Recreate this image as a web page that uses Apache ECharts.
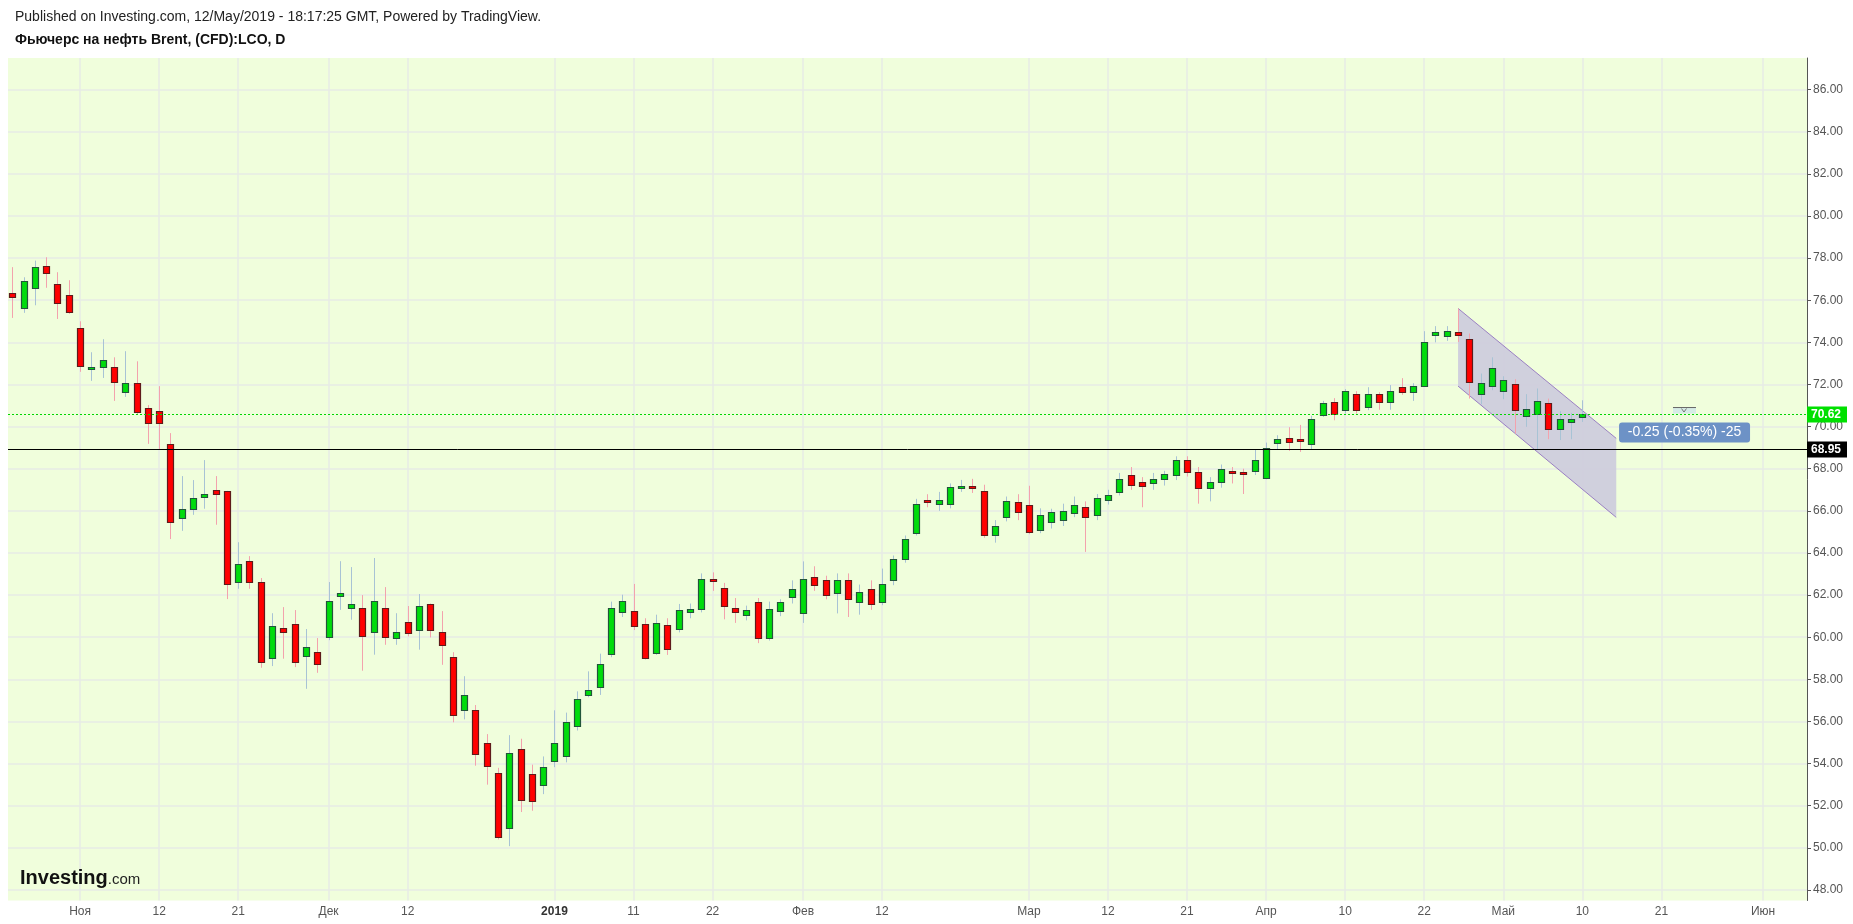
<!DOCTYPE html>
<html>
<head>
<meta charset="utf-8">
<script src="https://cdn.jsdelivr.net/npm/echarts@6/dist/echarts.min.js"></script>
<style>html,body{margin:0;padding:0;background:#fff;}#c{width:1853px;height:924px;}</style>
</head>
<body>
<div id="c"></div>
<script>
// Trading days: index 0 = 24 Oct 2018 ... index 139 = 10 May 2019
const opens  = [76.36,75.65,76.60,77.64,76.79,76.27,74.70,72.76,72.85,72.85,71.65,72.09,70.86,70.72,69.15,65.64,66.11,66.68,67.01,66.92,62.60,63.60,62.60,58.99,60.42,60.65,59.13,59.28,59.99,61.94,61.37,61.37,60.27,61.37,59.94,60.70,60.32,61.56,60.27,59.04,56.53,56.53,55.00,53.55,50.92,54.68,53.50,52.99,54.12,54.34,55.80,57.26,57.65,59.22,61.18,61.24,60.62,59.27,60.57,60.40,61.18,61.35,62.75,62.36,61.41,61.07,61.69,59.95,61.24,61.91,61.13,62.86,62.70,62.08,62.70,61.69,62.31,61.69,62.70,63.71,64.94,66.51,66.34,66.34,67.13,67.19,66.96,64.83,65.73,66.40,66.29,65.11,65.45,65.56,65.90,66.17,65.78,66.51,66.90,67.69,67.35,67.30,67.52,67.69,68.42,67.86,67.07,67.35,67.91,67.85,67.91,67.58,69.23,69.48,69.42,69.15,70.57,71.19,70.80,71.57,70.95,71.57,71.19,71.87,71.62,71.93,74.37,74.28,74.47,74.18,71.57,71.95,71.71,72.00,70.48,70.59,71.13,69.88,70.24,70.45];
const highs  = [77.57,77.09,77.88,78.04,77.33,76.95,75.00,73.53,74.15,73.29,73.58,73.10,71.02,71.92,69.69,67.65,67.46,68.41,67.65,66.95,64.51,63.85,62.81,61.14,61.43,61.29,60.39,59.96,62.62,63.61,63.33,62.00,63.76,62.38,61.14,61.48,62.05,61.60,61.24,59.29,58.15,56.78,55.40,53.80,55.35,55.18,53.95,54.34,56.53,56.42,57.43,58.38,59.22,61.69,62.02,62.53,60.90,61.07,60.90,61.58,61.60,63.03,63.08,62.58,61.86,61.50,61.86,61.69,61.80,62.70,63.60,63.37,62.92,63.03,63.03,62.50,62.70,63.26,63.88,64.83,66.57,66.79,66.90,67.30,67.47,67.52,67.24,65.56,66.68,66.79,67.19,66.12,66.10,66.34,66.68,66.45,66.80,67.00,67.80,68.08,67.60,67.80,67.90,68.59,68.59,68.08,67.60,68.20,68.08,68.00,68.90,69.24,69.59,69.97,70.08,70.51,71.22,71.35,71.78,71.68,71.87,71.63,71.97,72.30,72.06,74.53,74.77,74.77,75.60,74.42,72.52,73.29,72.39,72.25,71.54,71.81,71.33,70.73,70.65,71.25];
const lows   = [75.16,75.40,75.76,76.59,75.11,75.35,72.60,72.17,72.31,71.22,71.41,70.60,69.18,68.91,64.66,65.05,65.81,66.10,65.34,61.81,62.30,62.30,58.55,58.63,58.98,58.58,57.55,58.31,59.86,61.30,60.83,58.41,59.17,59.64,59.64,60.04,59.41,59.99,58.69,55.96,56.10,53.90,53.00,50.40,50.08,51.70,51.76,52.55,53.83,54.06,55.57,57.15,57.26,59.05,60.96,60.34,58.94,59.16,59.16,60.23,60.90,61.18,62.20,60.85,60.68,60.80,59.72,59.84,61.00,61.60,60.68,62.20,61.80,61.13,60.96,61.07,61.30,61.52,62.47,63.54,64.83,66.17,66.00,66.12,66.90,66.85,64.72,64.49,65.50,65.56,64.89,64.94,65.16,65.28,65.70,64.05,65.56,66.30,66.73,67.00,66.17,67.00,67.20,67.46,67.63,66.34,66.45,67.10,67.30,66.80,67.70,67.50,68.91,68.85,68.80,68.90,70.46,70.30,70.62,70.62,70.78,70.80,70.80,71.51,71.22,71.89,74.00,74.07,74.02,71.33,71.06,71.73,71.30,69.67,69.99,68.91,69.40,69.36,69.40,70.22];
const closes = [76.17,76.89,77.60,77.31,75.89,75.46,72.90,72.85,73.18,72.12,72.09,70.67,70.19,70.15,65.48,66.11,66.63,66.78,66.78,62.55,63.50,62.60,58.83,60.51,60.23,58.80,59.52,58.71,61.70,62.08,61.56,60.08,61.70,59.99,60.23,60.18,61.46,60.32,59.61,56.29,57.28,54.45,53.90,50.53,54.51,52.27,52.21,53.83,54.96,55.97,57.09,57.48,58.71,61.41,61.74,60.51,58.99,60.68,59.44,61.30,61.35,62.75,62.70,61.46,61.18,61.30,59.95,61.35,61.69,62.31,62.75,62.47,62.02,62.70,61.80,62.14,61.58,62.53,63.71,64.66,66.34,66.40,66.51,67.13,67.19,67.07,64.83,65.28,66.45,65.95,65.00,65.78,65.95,66.01,66.29,65.73,66.62,66.73,67.52,67.24,67.19,67.52,67.75,68.42,67.86,67.07,67.35,67.97,67.80,67.78,68.42,69.00,69.39,69.28,69.37,70.34,71.10,70.62,71.71,70.80,71.57,71.19,71.71,71.62,71.95,74.04,74.51,74.56,74.37,72.12,72.05,72.80,72.19,70.77,70.84,71.22,69.88,70.37,70.37,70.62];

// x-axis ticks (trading-day index) and their labels
const tickIdx    = [6,13,20,28,35,48,55,62,70,77,90,97,104,111,118,125,132,139,146,155];
const tickLabels = ['Ноя','12','21','Дек','12','2019','11','22','Фев','12','Мар','12','21','Апр','10','22','Май','10','21','Июн'];
const priceTicks = [48,50,52,54,56,58,60,62,64,66,68,70,72,74,76,78,80,82,84,86];

// descending channel drawing (index, upper, lower)
const channelX     = [128, 142];
const channelUpper = [75.61, 69.44];
const channelLower = [71.92, 65.69];

// price levels: last close (green dotted) and reference line (black)
const levelValues = [70.62, 68.95];
const levelColors = ['#00d600', '#000000'];
const changeText = '-0.25 (-0.35%) -25';

const chart = echarts.init(document.getElementById('c'));
const FONT = '"Liberation Sans", Arial, sans-serif';

function renderCandle(params, api) {
  const i = api.value(0), o = api.value(1), c = api.value(2), l = api.value(3), h = api.value(4);
  const pO = api.coord([i, o]), pC = api.coord([i, c]);
  const pH = api.coord([i, h]), pL = api.coord([i, l]);
  const bw = Math.round(api.size([1, 0])[0] * 0.52);
  const up = c >= o;
  const cx = Math.round(pO[0]);
  let top = Math.round(Math.min(pO[1], pC[1])), bot = Math.round(Math.max(pO[1], pC[1]));
  if (bot - top < 2) { bot = top + 2; }
  return {
    type: 'group',
    children: [
      { type: 'line', shape: { x1: cx + 0.5, y1: pH[1], x2: cx + 0.5, y2: pL[1] },
        style: { stroke: up ? '#a8c3d5' : '#f3a2ad', lineWidth: 1 } },
      { type: 'rect', shape: { x: cx - Math.floor(bw / 2) + 0.5, y: top + 0.5, width: bw, height: bot - top },
        style: { fill: up ? '#00dc0c' : '#ff0000', stroke: up ? '#22553a' : '#5e1b1b', lineWidth: 1.2 } }
    ]
  };
}

function renderChannel(params, api) {
  const a = api.coord([api.value(0), api.value(1)]);
  const b = api.coord([api.value(3), api.value(4)]);
  const cc = api.coord([api.value(3), api.value(5)]);
  const d = api.coord([api.value(0), api.value(2)]);
  return {
    type: 'group',
    children: [
      { type: 'polygon', shape: { points: [a, b, cc, d] }, style: { fill: 'rgba(205,204,220,0.92)' } },
      { type: 'line', shape: { x1: a[0], y1: a[1], x2: b[0], y2: b[1] }, style: { stroke: '#9a7fc4', lineWidth: 1 } },
      { type: 'line', shape: { x1: d[0], y1: d[1], x2: cc[0], y2: cc[1] }, style: { stroke: '#9a7fc4', lineWidth: 1 } }
    ]
  };
}

function renderLevel(params, api) {
  const v = api.value(0);
  const cs = params.coordSys;
  const y = Math.round(api.coord([0, v])[1]) + 0.5;
  const col = levelColors[params.dataIndex];
  const dotted = params.dataIndex === 0;
  return {
    type: 'group',
    children: [
      { type: 'line', shape: { x1: cs.x, y1: y, x2: cs.x + cs.width, y2: y },
        style: { stroke: col, lineWidth: 1, lineDash: dotted ? [2, 2] : null } },
      { type: 'rect', shape: { x: cs.x + cs.width, y: y - 8, width: 40, height: 16 },
        style: { fill: dotted ? '#00e000' : '#000' } },
      { type: 'text', x: cs.x + cs.width + 4, y: y, style: { text: v.toFixed(2), fill: '#fff',
        font: 'bold 12px ' + FONT, verticalAlign: 'middle', align: 'left' } }
    ]
  };
}

function renderNote(params, api) {
  const p = api.coord([api.value(0), api.value(1)]);
  if (params.dataIndex === 0) {
    return {
      type: 'group',
      children: [
        { type: 'rect', shape: { x: p[0], y: p[1] - 10, width: 131, height: 20, r: 3 }, style: { fill: '#6d92c6' } },
        { type: 'text', x: p[0] + 65.5, y: p[1], style: { text: changeText, fill: '#fff', font: '14px ' + FONT,
          align: 'center', verticalAlign: 'middle' } }
      ]
    };
  }
  return {
    type: 'group',
    children: [
      { type: 'rect', shape: { x: p[0] - 11, y: p[1] - 6, width: 23, height: 6 }, style: { fill: '#d6ece6' } },
      { type: 'line', shape: { x1: p[0] - 11, y1: p[1] - 6, x2: p[0] + 12, y2: p[1] - 6 }, style: { stroke: '#666', lineWidth: 1 } },
      { type: 'polyline', shape: { points: [[p[0] - 2.5, p[1] - 5], [p[0], p[1] - 1.5], [p[0] + 2.5, p[1] - 5]] },
        style: { stroke: '#777', lineWidth: 1, fill: null } }
    ]
  };
}

const candleData = opens.map((o, i) => [i, o, closes[i], lows[i], highs[i]]);
const gridColor = '#e7ebe6';

chart.setOption({
  animation: false,
  backgroundColor: '#ffffff',
  grid: { left: 8, right: 46, top: 58, bottom: 23.5, show: true, backgroundColor: '#f0fedc', borderWidth: 0 },
  xAxis: {
    type: 'value', min: -0.38, max: 158.89,
    axisLine: { show: false, onZero: false },
    axisTick: { show: false, customValues: tickIdx },
    splitLine: { show: true, lineStyle: { color: gridColor, width: 1.5 } },
    axisLabel: {
      customValues: tickIdx, margin: 5, color: '#555', fontSize: 12, fontFamily: FONT,
      formatter: function (v) {
        const k = tickIdx.indexOf(Math.round(v));
        if (k < 0) return '';
        return tickLabels[k] === '2019' ? '{b|2019}' : tickLabels[k];
      },
      rich: { b: { fontWeight: 'bold', color: '#333', fontSize: 12, fontFamily: FONT } }
    }
  },
  yAxis: {
    type: 'value', position: 'right', min: 47.5, max: 87.5,
    axisLine: { show: true, onZero: false, lineStyle: { color: '#555', width: 1 } },
    axisTick: { show: true, length: 4, customValues: priceTicks, lineStyle: { color: '#555' } },
    splitLine: { show: true, lineStyle: { color: gridColor, width: 1.5 } },
    axisLabel: { customValues: priceTicks, margin: 6, color: '#555', fontSize: 12, fontFamily: FONT,
      formatter: function (v) { return v.toFixed(2); } }
  },
  graphic: [
    { type: 'text', left: 15, top: 10, style: { text: 'Published on Investing.com, 12/May/2019 - 18:17:25 GMT, Powered by TradingView.',
      font: '14px ' + FONT, fill: '#222' } },
    { type: 'text', left: 15, top: 33, style: { text: 'Фьючерс на нефть Brent, (CFD):LCO, D',
      font: 'bold 14px ' + FONT, fill: '#111' } },
    { type: 'text', left: 20, top: 868, z: 100, style: { text: '{a|Investing}{b|.com}',
      rich: { a: { font: 'bold 20px ' + FONT, fill: '#111' }, b: { font: '15px ' + FONT, fill: '#222', padding: [4, 0, 0, 0] } } } }
  ],
  series: [
    { type: 'custom', name: 'channel', renderItem: renderChannel, z: 2, silent: true,
      encode: { x: [0, 3], y: [1, 2, 4, 5] },
      data: [[channelX[0], channelUpper[0], channelLower[0], channelX[1], channelUpper[1], channelLower[1]]] },
    { type: 'custom', name: 'LCO', renderItem: renderCandle, z: 5, clip: true,
      encode: { x: 0, y: [1, 2, 3, 4] }, data: candleData },
    { type: 'custom', name: 'levels', renderItem: renderLevel, z: 8, silent: true,
      encode: { y: 0 }, data: levelValues.map(v => [v]) },
    { type: 'custom', name: 'notes', renderItem: renderNote, z: 9, silent: true,
      encode: { x: 0, y: 1 }, data: [[142.25, 69.72], [148, 70.62]] }
  ]
});
</script>
</body>
</html>
